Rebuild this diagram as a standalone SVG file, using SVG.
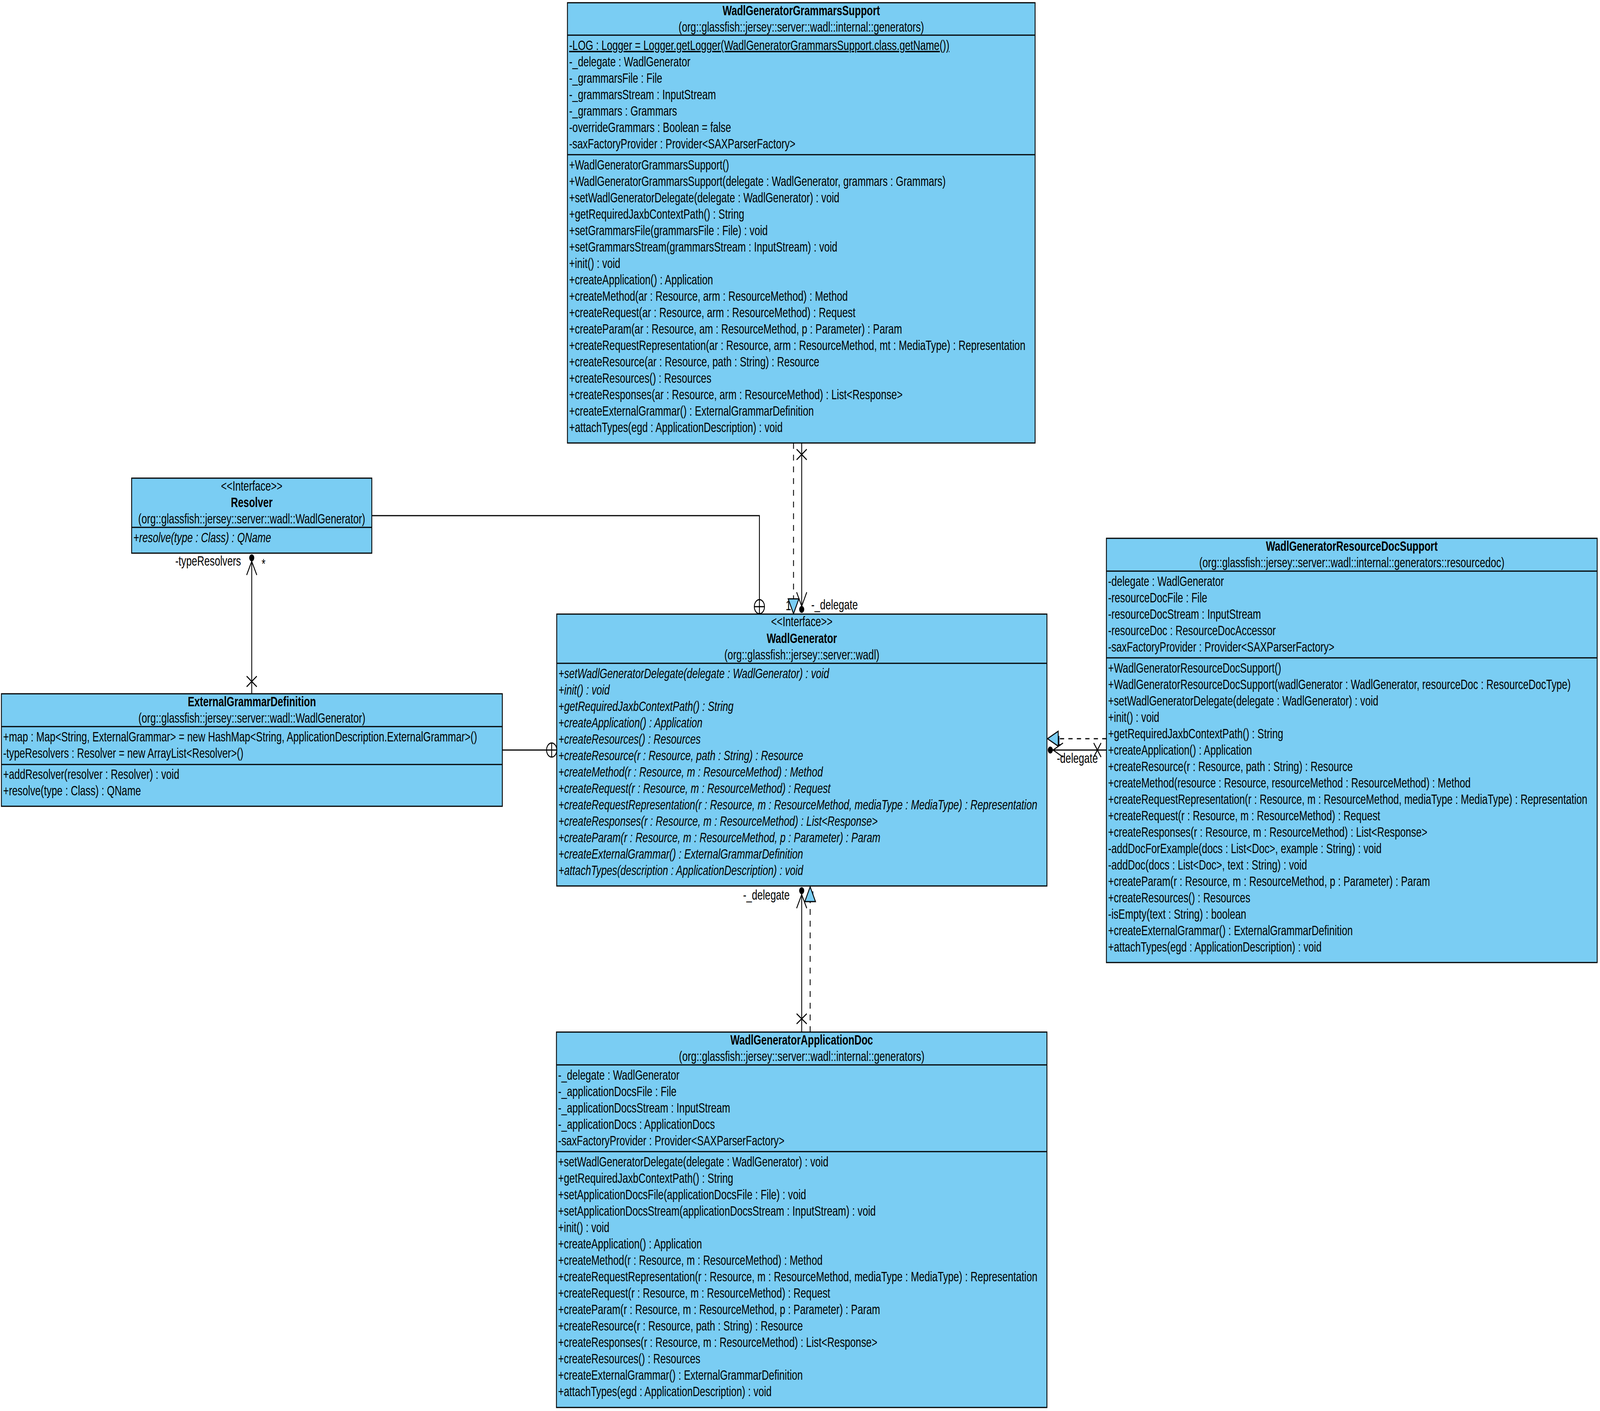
<svg xmlns="http://www.w3.org/2000/svg" width="5676" height="3612" viewBox="0 0 5676 3612" preserveAspectRatio="none">
<style>
svg:root{width:100vw;height:100vh}
.bg{fill:#ffffff}
.box{fill:#7ACDF3;stroke:#000;stroke-width:3}
.sep{stroke:#000;stroke-width:3;fill:none}
.t{font-family:"Liberation Sans",Arial,sans-serif;font-size:35px;fill:#000}
.b{font-weight:bold}
.i{font-style:italic}
.c{text-anchor:middle}
.e{text-anchor:end}
.u{text-decoration:underline}
.ln{fill:none;stroke:#000;stroke-width:3}
.dash{stroke-dasharray:15 15}
.tri{fill:#7ACDF3;stroke:#000;stroke-width:3;stroke-linejoin:miter}
.dot{fill:#000}
.nest{fill:#fff;stroke:#000;stroke-width:3}
</style>
<rect class="bg" x="0" y="0" width="5676" height="3612"/>

<g id="WadlGeneratorGrammarsSupport">
<rect class="box" x="2013" y="7" width="1659" height="1127"/>
<line class="sep" x1="2013" y1="90" x2="3672" y2="90"/>
<line class="sep" x1="2013" y1="396" x2="3672" y2="396"/>
<text class="t b c" x="2842.5" y="39">WadlGeneratorGrammarsSupport</text>
<text class="t c" x="2842.5" y="81">(org::glassfish::jersey::server::wadl::internal::generators)</text>
<text class="t u" x="2019" y="128">-LOG : Logger = Logger.getLogger(WadlGeneratorGrammarsSupport.class.getName())</text>
<text class="t" x="2019" y="170"><tspan x="2019" y="170">-_delegate : WadlGenerator</tspan><tspan x="2019" dy="42">-_grammarsFile : File</tspan><tspan x="2019" dy="42">-_grammarsStream : InputStream</tspan><tspan x="2019" dy="42">-_grammars : Grammars</tspan><tspan x="2019" dy="42">-overrideGrammars : Boolean = false</tspan><tspan x="2019" dy="42">-saxFactoryProvider : Provider&lt;SAXParserFactory&gt;</tspan></text>
<text class="t" x="2019" y="434"><tspan x="2019" y="434">+WadlGeneratorGrammarsSupport()</tspan><tspan x="2019" dy="42">+WadlGeneratorGrammarsSupport(delegate : WadlGenerator, grammars : Grammars)</tspan><tspan x="2019" dy="42">+setWadlGeneratorDelegate(delegate : WadlGenerator) : void</tspan><tspan x="2019" dy="42">+getRequiredJaxbContextPath() : String</tspan><tspan x="2019" dy="42">+setGrammarsFile(grammarsFile : File) : void</tspan><tspan x="2019" dy="42">+setGrammarsStream(grammarsStream : InputStream) : void</tspan><tspan x="2019" dy="42">+init() : void</tspan><tspan x="2019" dy="42">+createApplication() : Application</tspan><tspan x="2019" dy="42">+createMethod(ar : Resource, arm : ResourceMethod) : Method</tspan><tspan x="2019" dy="42">+createRequest(ar : Resource, arm : ResourceMethod) : Request</tspan><tspan x="2019" dy="42">+createParam(ar : Resource, am : ResourceMethod, p : Parameter) : Param</tspan><tspan x="2019" dy="42">+createRequestRepresentation(ar : Resource, arm : ResourceMethod, mt : MediaType) : Representation</tspan><tspan x="2019" dy="42">+createResource(ar : Resource, path : String) : Resource</tspan><tspan x="2019" dy="42">+createResources() : Resources</tspan><tspan x="2019" dy="42">+createResponses(ar : Resource, arm : ResourceMethod) : List&lt;Response&gt;</tspan><tspan x="2019" dy="42">+createExternalGrammar() : ExternalGrammarDefinition</tspan><tspan x="2019" dy="42">+attachTypes(egd : ApplicationDescription) : void</tspan></text>
</g>

<g id="Resolver">
<rect class="box" x="467" y="1224" width="852" height="192"/>
<line class="sep" x1="467" y1="1350" x2="1319" y2="1350"/>
<text class="t c" x="893" y="1256">&lt;&lt;Interface&gt;&gt;</text>
<text class="t b c" x="893" y="1298">Resolver</text>
<text class="t c" x="893" y="1340">(org::glassfish::jersey::server::wadl::WadlGenerator)</text>
<text class="t i" x="473" y="1388">+resolve(type : Class) : QName</text>
</g>

<g id="ExternalGrammarDefinition">
<rect class="box" x="5" y="1776" width="1777" height="288"/>
<line class="sep" x1="5" y1="1860" x2="1782" y2="1860"/>
<line class="sep" x1="5" y1="1957" x2="1782" y2="1957"/>
<text class="t b c" x="893.5" y="1808">ExternalGrammarDefinition</text>
<text class="t c" x="893.5" y="1850">(org::glassfish::jersey::server::wadl::WadlGenerator)</text>
<text class="t" x="11" y="1898"><tspan x="11" y="1898">+map : Map&lt;String, ExternalGrammar&gt; = new HashMap&lt;String, ApplicationDescription.ExternalGrammar&gt;()</tspan><tspan x="11" dy="42">-typeResolvers : Resolver = new ArrayList&lt;Resolver&gt;()</tspan></text>
<text class="t" x="11" y="1994"><tspan x="11" y="1994">+addResolver(resolver : Resolver) : void</tspan><tspan x="11" dy="42">+resolve(type : Class) : QName</tspan></text>
</g>

<g id="WadlGenerator">
<rect class="box" x="1975" y="1572" width="1739" height="696"/>
<line class="sep" x1="1975" y1="1698" x2="3714" y2="1698"/>
<text class="t c" x="2844.5" y="1603">&lt;&lt;Interface&gt;&gt;</text>
<text class="t b c" x="2844.5" y="1646">WadlGenerator</text>
<text class="t c" x="2844.5" y="1688">(org::glassfish::jersey::server::wadl)</text>
<text class="t i" x="1981" y="1736"><tspan x="1981" y="1736">+setWadlGeneratorDelegate(delegate : WadlGenerator) : void</tspan><tspan x="1981" dy="42">+init() : void</tspan><tspan x="1981" dy="42">+getRequiredJaxbContextPath() : String</tspan><tspan x="1981" dy="42">+createApplication() : Application</tspan><tspan x="1981" dy="42">+createResources() : Resources</tspan><tspan x="1981" dy="42">+createResource(r : Resource, path : String) : Resource</tspan><tspan x="1981" dy="42">+createMethod(r : Resource, m : ResourceMethod) : Method</tspan><tspan x="1981" dy="42">+createRequest(r : Resource, m : ResourceMethod) : Request</tspan><tspan x="1981" dy="42">+createRequestRepresentation(r : Resource, m : ResourceMethod, mediaType : MediaType) : Representation</tspan><tspan x="1981" dy="42">+createResponses(r : Resource, m : ResourceMethod) : List&lt;Response&gt;</tspan><tspan x="1981" dy="42">+createParam(r : Resource, m : ResourceMethod, p : Parameter) : Param</tspan><tspan x="1981" dy="42">+createExternalGrammar() : ExternalGrammarDefinition</tspan><tspan x="1981" dy="42">+attachTypes(description : ApplicationDescription) : void</tspan></text>
</g>

<g id="WadlGeneratorResourceDocSupport">
<rect class="box" x="3925" y="1378" width="1741" height="1086"/>
<line class="sep" x1="3925" y1="1462" x2="5666" y2="1462"/>
<line class="sep" x1="3925" y1="1684" x2="5666" y2="1684"/>
<text class="t b c" x="4795.5" y="1410">WadlGeneratorResourceDocSupport</text>
<text class="t c" x="4795.5" y="1452">(org::glassfish::jersey::server::wadl::internal::generators::resourcedoc)</text>
<text class="t" x="3931" y="1500"><tspan x="3931" y="1500">-delegate : WadlGenerator</tspan><tspan x="3931" dy="42">-resourceDocFile : File</tspan><tspan x="3931" dy="42">-resourceDocStream : InputStream</tspan><tspan x="3931" dy="42">-resourceDoc : ResourceDocAccessor</tspan><tspan x="3931" dy="42">-saxFactoryProvider : Provider&lt;SAXParserFactory&gt;</tspan></text>
<text class="t" x="3931" y="1722"><tspan x="3931" y="1722">+WadlGeneratorResourceDocSupport()</tspan><tspan x="3931" dy="42">+WadlGeneratorResourceDocSupport(wadlGenerator : WadlGenerator, resourceDoc : ResourceDocType)</tspan><tspan x="3931" dy="42">+setWadlGeneratorDelegate(delegate : WadlGenerator) : void</tspan><tspan x="3931" dy="42">+init() : void</tspan><tspan x="3931" dy="42">+getRequiredJaxbContextPath() : String</tspan><tspan x="3931" dy="42">+createApplication() : Application</tspan><tspan x="3931" dy="42">+createResource(r : Resource, path : String) : Resource</tspan><tspan x="3931" dy="42">+createMethod(resource : Resource, resourceMethod : ResourceMethod) : Method</tspan><tspan x="3931" dy="42">+createRequestRepresentation(r : Resource, m : ResourceMethod, mediaType : MediaType) : Representation</tspan><tspan x="3931" dy="42">+createRequest(r : Resource, m : ResourceMethod) : Request</tspan><tspan x="3931" dy="42">+createResponses(r : Resource, m : ResourceMethod) : List&lt;Response&gt;</tspan><tspan x="3931" dy="42">-addDocForExample(docs : List&lt;Doc&gt;, example : String) : void</tspan><tspan x="3931" dy="42">-addDoc(docs : List&lt;Doc&gt;, text : String) : void</tspan><tspan x="3931" dy="42">+createParam(r : Resource, m : ResourceMethod, p : Parameter) : Param</tspan><tspan x="3931" dy="42">+createResources() : Resources</tspan><tspan x="3931" dy="42">-isEmpty(text : String) : boolean</tspan><tspan x="3931" dy="42">+createExternalGrammar() : ExternalGrammarDefinition</tspan><tspan x="3931" dy="42">+attachTypes(egd : ApplicationDescription) : void</tspan></text>
</g>

<g id="WadlGeneratorApplicationDoc">
<rect class="box" x="1974" y="2642" width="1740" height="961"/>
<line class="sep" x1="1974" y1="2726" x2="3714" y2="2726"/>
<line class="sep" x1="1974" y1="2948" x2="3714" y2="2948"/>
<text class="t b c" x="2844" y="2674">WadlGeneratorApplicationDoc</text>
<text class="t c" x="2844" y="2716">(org::glassfish::jersey::server::wadl::internal::generators)</text>
<text class="t" x="1980" y="2764"><tspan x="1980" y="2764">-_delegate : WadlGenerator</tspan><tspan x="1980" dy="42">-_applicationDocsFile : File</tspan><tspan x="1980" dy="42">-_applicationDocsStream : InputStream</tspan><tspan x="1980" dy="42">-_applicationDocs : ApplicationDocs</tspan><tspan x="1980" dy="42">-saxFactoryProvider : Provider&lt;SAXParserFactory&gt;</tspan></text>
<text class="t" x="1980" y="2986"><tspan x="1980" y="2986">+setWadlGeneratorDelegate(delegate : WadlGenerator) : void</tspan><tspan x="1980" dy="42">+getRequiredJaxbContextPath() : String</tspan><tspan x="1980" dy="42">+setApplicationDocsFile(applicationDocsFile : File) : void</tspan><tspan x="1980" dy="42">+setApplicationDocsStream(applicationDocsStream : InputStream) : void</tspan><tspan x="1980" dy="42">+init() : void</tspan><tspan x="1980" dy="42">+createApplication() : Application</tspan><tspan x="1980" dy="42">+createMethod(r : Resource, m : ResourceMethod) : Method</tspan><tspan x="1980" dy="42">+createRequestRepresentation(r : Resource, m : ResourceMethod, mediaType : MediaType) : Representation</tspan><tspan x="1980" dy="42">+createRequest(r : Resource, m : ResourceMethod) : Request</tspan><tspan x="1980" dy="42">+createParam(r : Resource, m : ResourceMethod, p : Parameter) : Param</tspan><tspan x="1980" dy="42">+createResource(r : Resource, path : String) : Resource</tspan><tspan x="1980" dy="42">+createResponses(r : Resource, m : ResourceMethod) : List&lt;Response&gt;</tspan><tspan x="1980" dy="42">+createResources() : Resources</tspan><tspan x="1980" dy="42">+createExternalGrammar() : ExternalGrammarDefinition</tspan><tspan x="1980" dy="42">+attachTypes(egd : ApplicationDescription) : void</tspan></text>
</g>

<g id="connectors">
<path class="ln" d="M1319 1320 H2694 V1571"/>
<circle class="nest" cx="2694" cy="1553" r="18"/>
<path class="ln" d="M2694 1535 V1571 M2676 1553 H2712"/>
<path class="ln" d="M1782 1920 H1975"/>
<circle class="nest" cx="1957" cy="1920" r="18"/>
<path class="ln" d="M1939 1920 H1975 M1957 1902 V1938"/>
<path class="ln" d="M893 1776 V1430"/>
<path class="ln" d="M875 1472 L893 1437 L911 1472"/>
<circle class="dot" cx="893" cy="1428" r="9"/>
<path class="ln" d="M875 1731 L911 1758 M911 1731 L875 1758"/>
<text class="t e" x="855" y="1448">-typeResolvers</text>
<text class="t" x="928" y="1455">*</text>
<text class="t" x="2787" y="1562">1</text>
<path class="ln dash" d="M2815 1134 V1533"/>
<path class="tri" d="M2796 1533 L2834 1533 L2815 1571 Z"/>
<path class="ln" d="M2844 1134 V1560"/>
<path class="ln" d="M2826 1150 L2862 1177 M2862 1150 L2826 1177"/>
<path class="ln" d="M2826 1516 L2844 1552 L2862 1516"/>
<circle class="dot" cx="2844" cy="1560" r="9"/>
<text class="t" x="2878" y="1560">-_delegate</text>
<text class="t" x="2873" y="2306">1</text>
<path class="ln dash" d="M2874 2642 V2308"/>
<path class="tri" d="M2855 2308 L2893 2308 L2874 2270 Z"/>
<path class="ln" d="M2844 2642 V2281"/>
<path class="ln" d="M2826 2595 L2862 2621 M2862 2595 L2826 2621"/>
<path class="ln" d="M2826 2325 L2844 2290 L2862 2325"/>
<circle class="dot" cx="2844" cy="2280" r="9"/>
<text class="t" x="2636" y="2303">-_delegate</text>
<text class="t" x="3746" y="1908">1</text>
<path class="ln dash" d="M3925 1891 H3754"/>
<path class="tri" d="M3754 1872 L3754 1910 L3716 1891 Z"/>
<path class="ln" d="M3925 1920 H3727"/>
<path class="ln" d="M3880 1902 L3906 1938 M3906 1902 L3880 1938"/>
<path class="ln" d="M3771 1902 L3736 1920 L3771 1938"/>
<circle class="dot" cx="3726" cy="1920" r="9"/>
<text class="t" x="3749" y="1953">-delegate</text>
</g>
</svg>
